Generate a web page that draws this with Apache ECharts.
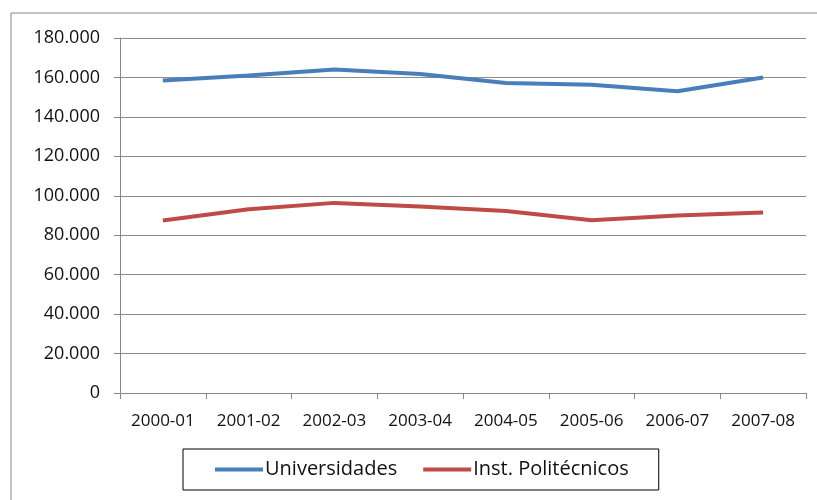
<!DOCTYPE html>
<html>
<head>
<meta charset="utf-8">
<script src="https://cdn.jsdelivr.net/npm/echarts@6/dist/echarts.min.js"></script>
<style>
  html, body { margin: 0; padding: 0; background: #fff; }
  #chart { width: 817px; height: 500px; }
</style>
</head>
<body>
<div id="chart"></div>
<script>
const categories = ["2000-01", "2001-02", "2002-03", "2003-04", "2004-05", "2005-06", "2006-07", "2007-08"];
const universidades = [158500, 161000, 164000, 161800, 157200, 156300, 153000, 160000];
const politecnicos = [87500, 93200, 96400, 94600, 92300, 87600, 90000, 91500];

const fontFamily = "'Open Sans', 'Noto Sans', sans-serif";

// 180000 -> "180.000"
function fmt(v) {
    return String(v).replace(/\B(?=(\d{3})+(?!\d))/g, ".");
}

const chart = echarts.init(document.getElementById("chart"), null, { renderer: "canvas" });

chart.setOption({
    animation: false,
    textStyle: { fontFamily: fontFamily },
    graphic: [{
        type: "polyline",
        shape: { points: [[11, 500], [11, 13], [817, 13]] },
        style: { stroke: "#888", lineWidth: 1, fill: null }
    }],
    grid: { left: 120, right: 11, top: 38, bottom: 107 },
    legend: {
        left: 183,
        top: 449,
        padding: [10, 30, 10, 32],
        borderColor: "#000",
        borderWidth: 1,
        itemGap: 26,
        itemWidth: 48,
        itemHeight: 4,
        icon: "rect",
        textStyle: { fontSize: 20, color: "#111", fontFamily: fontFamily, padding: [0, 0, 0, -3], lineHeight: 21 },
        data: ["Universidades", "Inst. Politécnicos"]
    },
    xAxis: {
        type: "category",
        data: categories,
        boundaryGap: true,
        axisLine: { lineStyle: { color: "#888", width: 1 } },
        axisTick: { show: true, length: 6, lineStyle: { color: "#888" } },
        axisLabel: { color: "#111", fontSize: 17, margin: 20, interval: 0 }
    },
    yAxis: {
        type: "value",
        min: 0,
        max: 180000,
        interval: 20000,
        axisLine: { show: true, lineStyle: { color: "#888" } },
        axisTick: { show: true, length: 6, inside: false, lineStyle: { color: "#888" } },
        axisLabel: { color: "#111", fontSize: 18, margin: 20, formatter: fmt },
        splitLine: { show: true, lineStyle: { color: "#8c8c8c", width: 1 } }
    },
    series: [
        {
            name: "Universidades",
            type: "line",
            data: universidades,
            showSymbol: false,
            symbol: "none",
            lineStyle: { width: 4, color: "#4A7EBB" },
            itemStyle: { color: "#4A7EBB" }
        },
        {
            name: "Inst. Politécnicos",
            type: "line",
            data: politecnicos,
            showSymbol: false,
            symbol: "none",
            lineStyle: { width: 4, color: "#BE4B48" },
            itemStyle: { color: "#BE4B48" }
        }
    ]
});
</script>
</body>
</html>
